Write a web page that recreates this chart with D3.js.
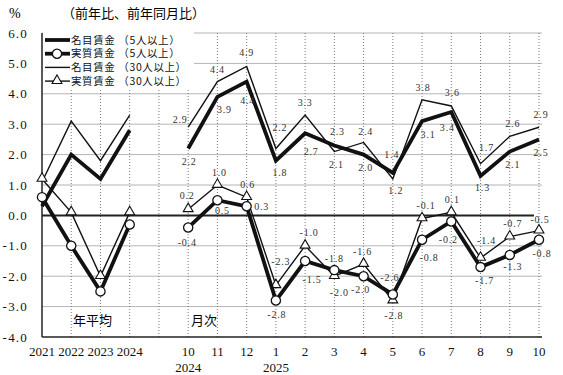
<!DOCTYPE html>
<html>
<head>
<meta charset="utf-8">
<script src="https://cdn.jsdelivr.net/npm/d3@7"></script>
<style>
  body { margin: 0; background: #fff; }
  svg { display: block; }
</style>
</head>
<body>
<div id="chart"></div>
<script>
// categories
const annualCats = ['2021', '2022', '2023', '2024'];
const monthCats = ['10', '11', '12', '1', '2', '3', '4', '5', '6', '7', '8', '9', '10'];
const yearUnder = { 0: '2024', 3: '2025' };

// values (%)
const nominal5Annual = [0.3, 2.0, 1.2, 2.8];
const real5Annual = [0.6, -1.0, -2.5, -0.3];
const nominal30Annual = [1.1, 3.1, 1.8, 3.3];
const real30Annual = [1.2, 0.1, -2.0, 0.1];

const nominal5Monthly = [2.2, 3.9, 4.4, 1.8, 2.7, 2.3, 2.0, 1.4, 3.1, 3.4, 1.3, 2.1, 2.5];
const real5Monthly = [-0.4, 0.5, 0.3, -2.8, -1.5, -1.8, -2.0, -2.6, -0.8, -0.2, -1.7, -1.3, -0.8];
const nominal30Monthly = [2.9, 4.4, 4.9, 2.2, 3.3, 2.1, 2.4, 1.2, 3.8, 3.6, 1.7, 2.6, 2.9];
const real30Monthly = [0.2, 1.0, 0.6, -2.3, -1.0, -2.0, -1.6, -2.8, -0.1, 0.1, -1.4, -0.7, -0.5];

const yTicks = [-4, -3, -2, -1, 0, 1, 2, 3, 4, 5, 6];

const width = 563;
const height = 375;
const serif = '"Liberation Serif", "DejaVu Serif", serif';
const cjk = '"Noto Sans CJK JP", sans-serif';
const monthStart = annualCats.length + 1; // one empty slot between the two parts
const nSlots = monthStart + monthCats.length;
const fmt = (v) => d3.format('.1f')(v).replace('\u2212', '-');

const x = d3.scaleLinear().domain([0, nSlots - 1]).range([42, 539]);
const y = d3.scaleLinear().domain([-4, 6]).range([337, 33]);
const plotRight = 542;

const svg = d3.select('#chart').append('svg')
  .attr('width', width)
  .attr('height', height);

// grid
svg.append('g')
  .selectAll('line')
  .data(yTicks.filter((t) => t !== 0 && t !== -4))
  .enter()
  .append('line')
  .attr('x1', x(0))
  .attr('x2', plotRight)
  .attr('y1', (d) => y(d))
  .attr('y2', (d) => y(d))
  .style('stroke', '#b4b4b4')
  .style('stroke-width', 1);

svg.append('g')
  .selectAll('line')
  .data(d3.range(1, nSlots))
  .enter()
  .append('line')
  .attr('x1', (d) => x(d))
  .attr('x2', (d) => x(d))
  .attr('y1', y(6))
  .attr('y2', y(-4))
  .style('stroke', '#7a7a7a')
  .style('stroke-width', 1)
  .style('stroke-dasharray', '1,2');

// legend box hides the grid below it
svg.append('rect')
  .attr('x', x(0) + 1)
  .attr('y', y(6) - 2)
  .attr('width', 151)
  .attr('height', 58)
  .style('fill', '#fff');

// axes lines
svg.append('line')
  .attr('x1', x(0)).attr('x2', plotRight - 8)
  .attr('y1', y(0)).attr('y2', y(0))
  .style('stroke', '#222').style('stroke-width', 2);
svg.append('line')
  .attr('x1', x(0)).attr('x2', plotRight)
  .attr('y1', y(-4)).attr('y2', y(-4))
  .style('stroke', '#222').style('stroke-width', 1.5);
svg.append('line')
  .attr('x1', x(0)).attr('x2', x(0))
  .attr('y1', y(6)).attr('y2', y(-4))
  .style('stroke', '#222').style('stroke-width', 1.5);

// y tick labels
const yAxis = svg.append('g')
  .attr('transform', `translate(${x(0)},0)`)
  .call(d3.axisLeft(y).tickValues(yTicks).tickSize(0).tickPadding(14)
    .tickFormat(fmt));
yAxis.select('.domain').remove();
yAxis.selectAll('text')
  .style('font-family', serif)
  .style('font-size', '13px')
  .style('letter-spacing', '1.2px')
  .style('fill', '#111');

// x labels
const xLabels = annualCats.map((c, i) => ({ i, t: c }))
  .concat(monthCats.map((c, i) => ({ i: monthStart + i, t: c })));
svg.append('g')
  .selectAll('text')
  .data(xLabels)
  .enter()
  .append('text')
  .attr('x', (d) => x(d.i))
  .attr('y', 356)
  .attr('text-anchor', 'middle')
  .style('font-family', serif)
  .style('font-size', '13px')
  .style('fill', '#111')
  .text((d) => d.t);
svg.append('g')
  .selectAll('text')
  .data(Object.keys(yearUnder))
  .enter()
  .append('text')
  .attr('x', (d) => x(monthStart + +d))
  .attr('y', 372)
  .attr('text-anchor', 'middle')
  .style('font-family', serif)
  .style('font-size', '13px')
  .style('fill', '#111')
  .text((d) => yearUnder[d]);

// headings
svg.append('text').attr('x', 9).attr('y', 18)
  .style('font-family', serif).style('font-size', '14px').text('%');
svg.append('text').attr('x', 62).attr('y', 18)
  .style('font-family', cjk).style('font-size', '13px').text('（前年比、前年同月比）');
svg.append('text').attr('x', 73).attr('y', 325)
  .style('font-family', cjk).style('font-size', '13px').text('年平均');
svg.append('text').attr('x', 191).attr('y', 325)
  .style('font-family', cjk).style('font-size', '13px').text('月次');

// series
const series = [
  { name: '名目賃金 （5人以上）', annual: nominal5Annual, monthly: nominal5Monthly, w: 3.8, marker: null },
  { name: '実質賃金 （5人以上）', annual: real5Annual, monthly: real5Monthly, w: 3.8, marker: 'circle' },
  { name: '名目賃金 （30人以上）', annual: nominal30Annual, monthly: nominal30Monthly, w: 1.4, marker: null },
  { name: '実質賃金 （30人以上）', annual: real30Annual, monthly: real30Monthly, w: 1.4, marker: 'triangle' },
];

const line = d3.line().x((d) => x(d.i)).y((d) => y(d.v));
const triangle = d3.symbol().type(d3.symbolTriangle).size(42);

function drawMarker(sel, kind) {
  if (kind === 'circle') {
    sel.append('circle').attr('r', 4.6)
      .style('fill', '#fff').style('stroke', '#111').style('stroke-width', 1.3);
  } else if (kind === 'triangle') {
    sel.append('path').attr('d', triangle).attr('transform', 'translate(0,-0.5)')
      .style('fill', '#fff').style('stroke', '#111').style('stroke-width', 1.1);
  }
}

const drawOrder = [2, 3, 0, 1];
drawOrder.forEach((k) => {
  const s = series[k];
  const parts = [
    s.annual.map((v, i) => ({ i, v })),
    s.monthly.map((v, i) => ({ i: monthStart + i, v })),
  ];
  const g = svg.append('g');
  parts.forEach((p) => {
    g.append('path')
      .datum(p)
      .attr('d', line)
      .style('fill', 'none')
      .style('stroke', '#111')
      .style('stroke-width', s.w)
      .style('stroke-linejoin', 'miter');
    if (s.marker) {
      g.selectAll(null)
        .data(p)
        .enter()
        .append('g')
        .attr('transform', (d) => `translate(${x(d.i)},${y(d.v)})`)
        .each(function () { drawMarker(d3.select(this), s.marker); });
    }
  });
});

// data labels for the monthly points: [dx, dy] from the point
const labelOffsets = [
  [[1, 13], [7, 13], [1, 19], [4, 12], [6, 18], [3, -14], [2, 13], [-1, -18], [6, 13], [-4, 15], [2, 12], [3, 13], [2, 13]],
  [[-1, 15], [5, 10], [15, 0], [1, 14], [7, 18], [0, -12], [-3, 13], [-3, -17], [7, 18], [-3, 18], [4, 13], [3, 12], [3, 14]],
  [[-8, -8], [0, -12], [0, -14], [4, -21], [0, -13], [2, 13], [2, -11], [3, 12], [1, -12], [1, -13], [6, -16], [3, -13], [2, -13]],
  [[-1, -14], [2, -13], [1, -13], [5, -24], [4, -13], [5, 16], [-1, -13], [1, 15], [4, -13], [1, -13], [6, -17], [3, -13], [1, -11]],
];
series.forEach((s, k) => {
  svg.append('g')
    .selectAll('text')
    .data(s.monthly.map((v, i) => ({ i: monthStart + i, v, o: labelOffsets[k][i] })))
    .enter()
    .append('text')
    .attr('x', (d) => x(d.i) + d.o[0])
    .attr('y', (d) => y(d.v) + d.o[1])
    .attr('dy', '0.35em')
    .attr('text-anchor', 'middle')
    .style('font-family', serif)
    .style('font-size', '10px')
    .style('letter-spacing', '0.8px')
    .style('fill', '#333')
    .text((d) => fmt(d.v));
});

// legend
const legend = svg.append('g');
series.forEach((s, k) => {
  const ly = 40 + k * 13.7;
  const row = legend.append('g').attr('transform', `translate(0,${ly})`);
  row.append('line')
    .attr('x1', 45).attr('x2', 70)
    .attr('y1', 0).attr('y2', 0)
    .style('stroke', '#111')
    .style('stroke-width', s.w);
  if (s.marker) {
    drawMarker(row.append('g').attr('transform', 'translate(57,0)'), s.marker);
  }
  row.append('text')
    .attr('x', 71)
    .attr('y', 0)
    .attr('dy', '0.35em')
    .style('font-family', cjk)
    .style('font-size', '10.5px')
    .style('letter-spacing', '0.6px')
    .style('fill', '#111')
    .text(s.name);
});
</script>
</body>
</html>
